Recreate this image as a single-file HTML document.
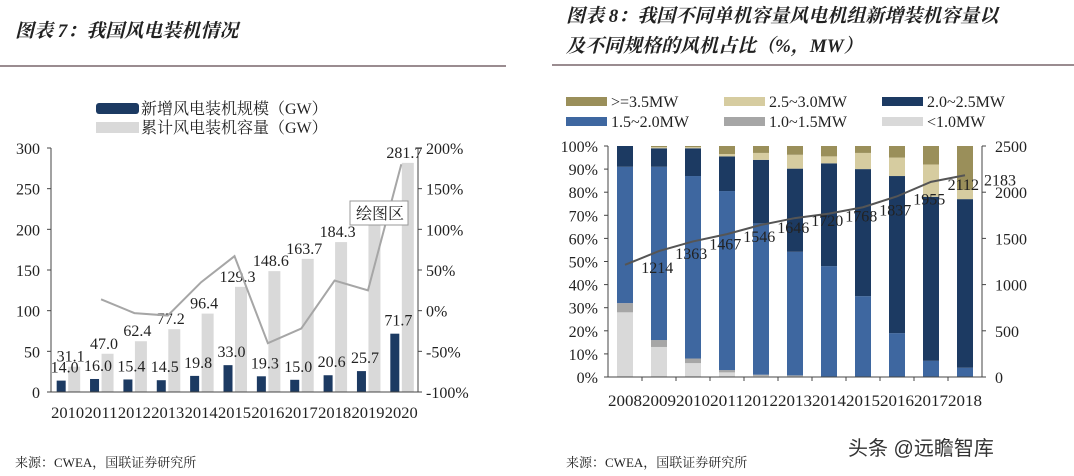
<!DOCTYPE html>
<html><head><meta charset="utf-8">
<style>
html,body{margin:0;padding:0;background:#fff;}
svg{display:block;font-family:"Liberation Serif","Noto Serif CJK SC",serif;}
.t{font-size:16px;fill:#222;}
.title{font-size:19px;font-weight:bold;font-style:italic;fill:#222;font-family:"Liberation Serif","Noto Serif CJK SC",serif;}
.foot{font-size:13px;fill:#222;font-family:"Liberation Serif","Noto Serif CJK SC",serif;}
</style></head>
<body>
<svg id="s" width="1074" height="476" viewBox="0 0 1074 476" xmlns="http://www.w3.org/2000/svg">
<text class="title" x="15" y="37">图表 7：我国风电装机情况</text>
<line x1="0" y1="66" x2="506" y2="66" stroke="#9a8c90" stroke-width="2"/>
<text class="title" x="566" y="22">图表 8：我国不同单机容量风电机组新增装机容量以</text>
<text class="title" x="566" y="52">及不同规格的风机占比（%，MW）</text>
<line x1="552" y1="65" x2="1074" y2="65" stroke="#9a8c90" stroke-width="2"/>
<text class="foot" x="15" y="467">来源：CWEA，国联证券研究所</text>
<text class="foot" x="566" y="467">来源：CWEA，国联证券研究所</text>
<text x="848" y="455" style="font-size:20px;fill:#333;font-family:'Liberation Sans','Noto Sans CJK SC',sans-serif">头条 @远瞻智库</text>
<g id="left"></g>
<g id="right"></g>
</svg>
<script>
var NS="http://www.w3.org/2000/svg";
function mk(p,tag,at){var e=document.createElementNS(NS,tag);for(var k in at)e.setAttribute(k,at[k]);p.appendChild(e);return e;}

// Left chart data
var leftYears=["2010","2011","2012","2013","2014","2015","2016","2017","2018","2019","2020"];
var newCap=[14.0,16.0,15.4,14.5,19.8,33.0,19.3,15.0,20.6,25.7,71.7];
var cumCap=[31.1,47.0,62.4,77.2,96.4,129.3,148.6,163.7,184.3,210.1,281.7];
var growth=[null,14,-3,-6,35,67,-40,-22,37,25,180];
var leftTicks=[0,50,100,150,200,250,300];
var rightTicks=[-100,-50,0,50,100,150,200];

// Right chart data
var rightYears=["2008","2009","2010","2011","2012","2013","2014","2015","2016","2017","2018"];
var seriesNames=["<1.0MW","1.0~1.5MW","1.5~2.0MW","2.0~2.5MW","2.5~3.0MW",">=3.5MW"];
var sLt1=[28,13,6,2,0.5,0.3,0,0,0,0,0];
var s1to15=[4,3,2,1,0.5,0.4,0,0,0,0,0];
var s15to2=[59,75,79,77.5,65.5,53.5,48,35,19,7,4];
var s2to25=[9,8,12,15,27.5,36,44.5,55,68,71,73];
var s25to3=[0,0.5,0.5,1,3,6,3,7,8,14,4];
var sGe35=[0,0.5,0.5,3.5,3,3.8,4.5,3,5,8,19];
var avgCap=[1214,1363,1467,1546,1646,1720,1768,1837,1955,2112,2183];
var pctTicks=[0,10,20,30,40,50,60,70,80,90,100];
var capTicks=[0,500,1000,1500,2000,2500];

(function(){
  var g=document.getElementById('left');
  var x0=51,x1=418,yT=148,yB=392;
  var cw=(x1-x0)/leftYears.length;
  function y(v){return yB-(v/300)*(yB-yT);}
  function yr(v){return yB-((v+100)/300)*(yB-yT);}
  for(var i=0;i<leftTicks.length;i++){
    var t=mk(g,'text',{x:40,y:y(leftTicks[i])+6,'text-anchor':'end',class:'t'});t.textContent=leftTicks[i];
    
    
    mk(g,'line',{x1:x0-4,x2:x0,y1:y(leftTicks[i]),y2:y(leftTicks[i]),stroke:'#444'});
  }
  for(var i=0;i<rightTicks.length;i++){
    var t=mk(g,'text',{x:426,y:yr(rightTicks[i])+6,class:'t'});t.textContent=rightTicks[i]+'%';
    
    
    mk(g,'line',{x1:x1,x2:x1+4,y1:yr(rightTicks[i]),y2:yr(rightTicks[i]),stroke:'#444'});
  }
  for(var i=0;i<leftYears.length;i++){
    var cx=x0+cw*(i+0.5);
    var b=mk(g,'rect',{x:cx+0.5,y:y(cumCap[i]),width:12,height:yB-y(cumCap[i]),fill:'#d9d9d9'});
    
    
    var d=mk(g,'rect',{x:cx-11,y:y(newCap[i]),width:9,height:yB-y(newCap[i]),fill:'#1c3a62'});
    
    
    var t=mk(g,'text',{x:cx-3,y:y(newCap[i])-8,'text-anchor':'middle',class:'t'});t.textContent=newCap[i].toFixed(1);
    
    
    var t2=mk(g,'text',{x:cx+3,y:y(cumCap[i])-5,'text-anchor':'middle',class:'t'});t2.textContent=cumCap[i].toFixed(1);
    
    
    var tx=mk(g,'text',{x:cx,y:418,'text-anchor':'middle',class:'t','textLength':33,'lengthAdjust':'spacingAndGlyphs'});tx.textContent=leftYears[i];
    
    
  }
  var pts=[];
  for(var i=0;i<growth.length;i++){if(growth[i]!==null)pts.push((x0+cw*(i+0.5))+','+yr(growth[i]));}
  var pl=mk(g,'polyline',{points:pts.join(' '),fill:'none',stroke:'#a6a6a6','stroke-width':2});
  
  
  mk(g,'line',{x1:x0,x2:x0,y1:yT,y2:yB,stroke:'#444'});
  mk(g,'line',{x1:x1,x2:x1,y1:yT,y2:yB,stroke:'#444'});
  mk(g,'line',{x1:x0,x2:x1,y1:yB,y2:yB,stroke:'#444'});
  var l1=mk(g,'rect',{x:96,y:103,width:43,height:11,rx:3,fill:'#1c3a62'});
  
  
  var lt=mk(g,'text',{x:141,y:114,class:'t'});lt.textContent='新增风电装机规模（GW）';
  
  
  var l2=mk(g,'rect',{x:96,y:122,width:43,height:11,fill:'#d9d9d9'});
  
  
  var lt2=mk(g,'text',{x:141,y:133,class:'t'});lt2.textContent='累计风电装机容量（GW）';
  
  
  var tb=mk(g,'rect',{x:350,y:201,width:58,height:24,fill:'#fff',stroke:'#999'});
  
  
  var tt=mk(g,'text',{x:356,y:219,class:'t',fill:'#555'});tt.textContent='绘图区';
  
  
})();

(function(){
  var g=document.getElementById('right');
  var x0=608,x1=982,yT=146,yB=377;
  var cw=(x1-x0)/rightYears.length;
  function y(p){return yB-(p/100)*(yB-yT);}
  function yc(v){return yB-(v/2500)*(yB-yT);}
  var series=[sLt1,s1to15,s15to2,s2to25,s25to3,sGe35];
  var colors=['#d9d9d9','#a6a6a6','#3e67a0','#1c3a62','#d6cca0','#9a8f5a'];
  for(var i=0;i<pctTicks.length;i++){
    var t=mk(g,'text',{x:598,y:y(pctTicks[i])+6,'text-anchor':'end',class:'t'});t.textContent=pctTicks[i]+'%';
    
    
    mk(g,'line',{x1:x0-4,x2:x0,y1:y(pctTicks[i]),y2:y(pctTicks[i]),stroke:'#444'});
  }
  for(var i=0;i<capTicks.length;i++){
    var t=mk(g,'text',{x:995,y:yc(capTicks[i])+6,class:'t'});t.textContent=capTicks[i];
    
    
    mk(g,'line',{x1:x1,x2:x1+4,y1:yc(capTicks[i]),y2:yc(capTicks[i]),stroke:'#444'});
  }
  for(var i=0;i<rightYears.length;i++){
    var cx=x0+cw*(i+0.5),acc=0;
    for(var s=0;s<series.length;s++){
      var v=series[s][i];if(v<=0){continue;}
      var r=mk(g,'rect',{x:cx-8,y:y(acc+v),width:16,height:y(acc)-y(acc+v),fill:colors[s]});
      
      
      acc+=v;
    }
    var tx=mk(g,'text',{x:cx,y:406,'text-anchor':'middle',class:'t','textLength':34,'lengthAdjust':'spacingAndGlyphs'});tx.textContent=rightYears[i];
    
    
    if(i>0)mk(g,'line',{x1:x0+cw*i,x2:x0+cw*i,y1:yB,y2:yB+4,stroke:'#444'});
  }
  var pts=[];
  for(var i=0;i<avgCap.length;i++){pts.push((x0+cw*(i+0.5))+','+yc(avgCap[i]));}
  var pl=mk(g,'polyline',{points:pts.join(' '),fill:'none',stroke:'#555','stroke-width':2});
  
  
  for(var i=0;i<avgCap.length;i++){
    var t=mk(g,'text',{x:x0+cw*(i+1.45),y:yc(avgCap[i])+8,'text-anchor':'middle',class:'t',fill:'#111'});
    if(i==avgCap.length-1){t.setAttribute('x',1000);t.setAttribute('y',yc(avgCap[i])+10);}
    t.textContent=avgCap[i];
    
    
  }
  mk(g,'line',{x1:x0,x2:x0,y1:yT,y2:yB,stroke:'#444'});
  mk(g,'line',{x1:x1,x2:x1,y1:yT,y2:yB,stroke:'#444'});
  mk(g,'line',{x1:x0,x2:x1,y1:yB,y2:yB,stroke:'#444'});
  var legOrder=[5,4,3,2,1,0];
  for(var k=0;k<6;k++){
    var s=legOrder[k];var col=k%3,row=Math.floor(k/3);
    var lx=566+col*158,ly=97+row*20;
    var sw=mk(g,'rect',{x:lx,y:ly,width:41,height:9,fill:colors[s]});
    
    
    var lt=mk(g,'text',{x:lx+45,y:ly+10,class:'t'});lt.textContent=seriesNames[s];
    
    
  }
})();
</script>
</body></html>
